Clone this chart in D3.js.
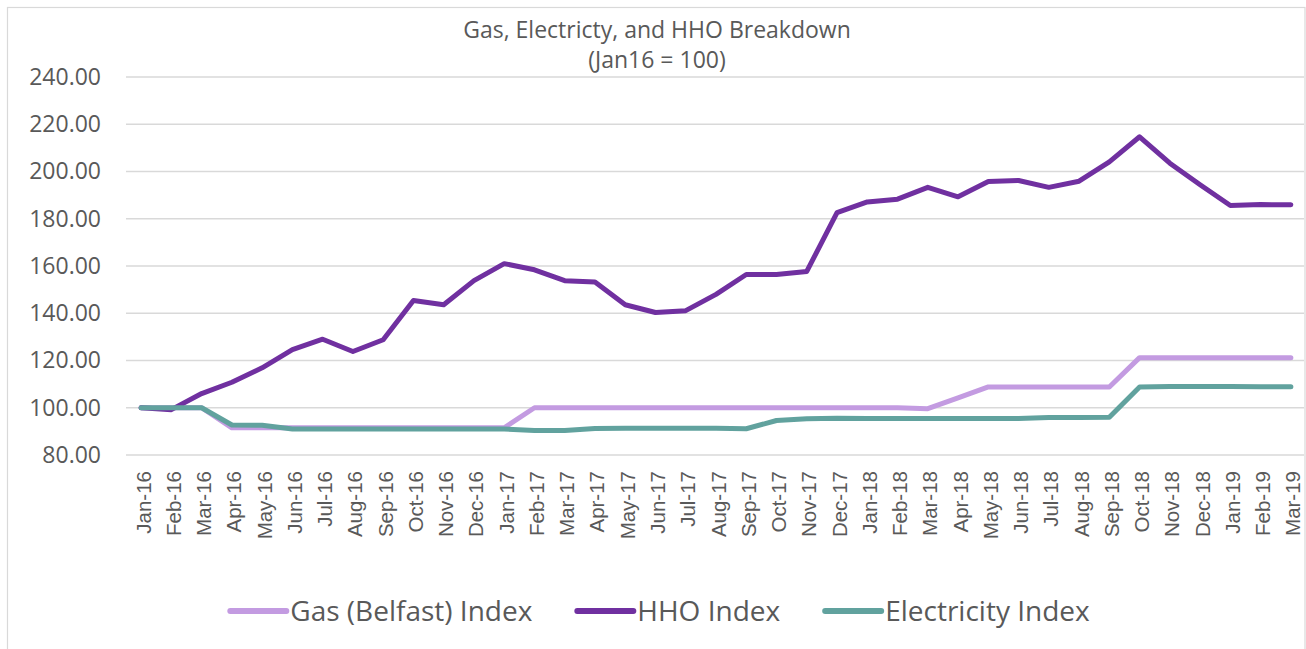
<!DOCTYPE html>
<html>
<head>
<meta charset="utf-8">
<script src="https://cdn.jsdelivr.net/npm/d3@7"></script>
<style>
  html, body { margin: 0; padding: 0; background: #fff; }
  svg { display: block; }
</style>
</head>
<body>
<svg id="chart" width="1306" height="649"></svg>
<script>
const months = ["Jan-16","Feb-16","Mar-16","Apr-16","May-16","Jun-16","Jul-16","Aug-16","Sep-16","Oct-16","Nov-16","Dec-16",
  "Jan-17","Feb-17","Mar-17","Apr-17","May-17","Jun-17","Jul-17","Aug-17","Sep-17","Oct-17","Nov-17","Dec-17",
  "Jan-18","Feb-18","Mar-18","Apr-18","May-18","Jun-18","Jul-18","Aug-18","Sep-18","Oct-18","Nov-18","Dec-18",
  "Jan-19","Feb-19","Mar-19"];

const gasIndex = [100,100,100,
  91.5,91.5,91.5,91.5,91.5,91.5,91.5,91.5,91.5,91.5,
  100,100,100,100,100,100,100,100,100,100,100,100,100,
  99.6,104.2,
  108.8,108.8,108.8,108.8,108.8,
  121.2,121.2,121.2,121.2,121.2,121.2];

const hhoIndex = [100,99.2,106,110.8,116.9,124.6,129,123.8,128.8,145.4,
  143.6,153.8,161,158.4,153.8,153.2,143.6,140.3,141.1,148,
  156.4,156.4,157.7,182.6,187.1,188.3,193.3,189.3,195.8,196.2,
  193.3,195.9,204.1,214.7,203.5,194.4,185.6,186,185.9];

const elecIndex = [100,100,100,92.7,92.6,
  91.0,91.0,91.0,91.0,91.0,91.0,91.0,91.0,
  90.4,90.4,
  91.2,91.3,91.3,91.3,91.3,91.1,
  94.6,95.3,95.6,
  95.5,95.5,95.5,95.5,95.5,95.5,
  95.9,95.9,96.0,
  108.8,109.0,109.0,109.0,108.9,108.9];

const yTicks = [80,100,120,140,160,180,200,220,240];
const seriesNames = ["Gas (Belfast) Index","HHO Index","Electricity Index"];
const titleLines = ["Gas, Electricty, and HHO Breakdown","(Jan16 = 100)"];

const series = [
  {name: seriesNames[0], values: gasIndex, color: "#C39BE1"},
  {name: seriesNames[1], values: hhoIndex, color: "#7030A0"},
  {name: seriesNames[2], values: elecIndex, color: "#61A29E"}
];

const svg = d3.select("#chart");
const W = 1306, H = 649;
const plot = {left: 126, right: 1306, top: 77, bottom: 455};
const textColor = "#595959";
const fontMain = "'Open Sans', 'Noto Sans', sans-serif";

svg.append("rect").attr("x",0).attr("y",0).attr("width",W).attr("height",H).attr("fill","#fff");
svg.append("rect").attr("x",7.5).attr("y",7.5).attr("width",1297.5).attr("height",680)
  .attr("fill","none").attr("stroke","#D9D9D9").attr("stroke-width",1.2);

const x = d3.scalePoint().domain(months).range([plot.left, plot.right]).padding(0.5);
const y = d3.scaleLinear().domain([80,240]).range([plot.bottom, plot.top]);

// gridlines
svg.append("g").selectAll("line").data(yTicks).join("line")
  .attr("x1", plot.left).attr("x2", plot.right - 2)
  .attr("y1", d => y(d)).attr("y2", d => y(d))
  .attr("stroke", "#D9D9D9").attr("stroke-width", 1.5);

// y axis labels
const yAxis = d3.axisLeft(y).tickValues(yTicks).tickFormat(d3.format(".2f")).tickSize(0).tickPadding(25);
const gy = svg.append("g").attr("transform", `translate(${plot.left},0)`).call(yAxis);
gy.select(".domain").remove();
gy.selectAll("text").attr("fill", textColor).style("font-family", fontMain).style("font-size", "23px");

// x axis labels
const xAxis = d3.axisBottom(x).tickSize(0).tickPadding(0);
const gx = svg.append("g").attr("transform", `translate(0,${plot.bottom})`).call(xAxis);
gx.select(".domain").remove();
gx.selectAll("text")
  .attr("fill", textColor)
  .style("font-family", "'Liberation Sans', Arial, sans-serif")
  .style("font-size", "20.5px")
  .attr("text-anchor", "end")
  .attr("dy", null)
  .attr("y", 0)
  .attr("transform", d => `translate(9,16) rotate(-90)`);

// lines
const line = d3.line().x((d,i) => x(months[i])).y(d => y(d));
svg.append("g").selectAll("path").data(series).join("path")
  .attr("d", d => line(d.values))
  .attr("fill","none")
  .attr("stroke", d => d.color)
  .attr("stroke-width", 5)
  .attr("stroke-linejoin","round")
  .attr("stroke-linecap","round");

// title
svg.append("g").selectAll("text").data(titleLines).join("text")
  .attr("x", 657).attr("y", (d,i) => 38 + i*30)
  .attr("text-anchor","middle")
  .attr("fill", textColor)
  .style("font-family", fontMain).style("font-size","23px")
  .text(d => d);

// legend
const lg = svg.append("g");
const lineLen = 56, lineGap = 4, itemGap = 45;
const items = lg.selectAll("g").data(series).join("g");
items.append("line").attr("x1",0).attr("x2",lineLen).attr("y1",0).attr("y2",0)
  .attr("stroke", d => d.color).attr("stroke-width",6).attr("stroke-linecap","round");
items.append("text").attr("x", lineLen + lineGap).attr("y", 10)
  .attr("fill", textColor).style("font-family", fontMain).style("font-size","28px")
  .text(d => d.name);
let widths = [];
items.each(function() { widths.push(lineLen + lineGap + this.querySelector("text").getComputedTextLength()); });
const total = d3.sum(widths) + itemGap*(widths.length-1);
let cx = 660 - total/2;
items.attr("transform", (d,i) => {
  const t = `translate(${cx},611)`;
  cx += widths[i] + itemGap;
  return t;
});
</script>
</body>
</html>
